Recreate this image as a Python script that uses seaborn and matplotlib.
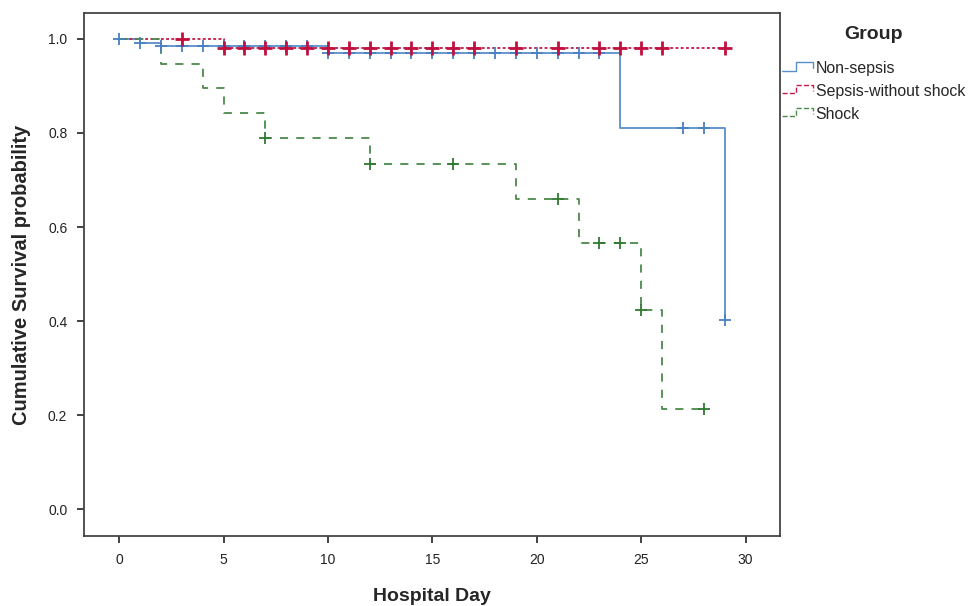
import numpy as np
import pandas as pd
import seaborn as sns
import matplotlib.pyplot as plt
from matplotlib.lines import Line2D
from matplotlib.legend_handler import HandlerBase

# Kaplan-Meier steps
groups = ["Non-sepsis", "Sepsis-without shock", "Shock"]

nonsep_times = [0, 1, 2, 10, 24, 29]
nonsep_surv = [1.0, 0.992, 0.985, 0.970, 0.810, 0.402]
nonsep_end = 29
nonsep_censor = [0, 1, 2, 3, 4, 5, 6, 7, 8, 9, 10, 11, 12, 13, 14, 15, 16, 17,
                 18, 19, 20, 21, 22, 23, 27, 28, 29]

sepsis_times = [0, 5]
sepsis_surv = [1.0, 0.981]
sepsis_end = 29
sepsis_censor = [3, 5, 6, 7, 8, 9, 10, 11, 12, 13, 14, 15, 16, 17, 19, 21, 23,
                 24, 25, 26, 29]

shock_times = [0, 2, 4, 5, 7, 12, 19, 22, 25, 26]
shock_surv = [1.0, 0.947, 0.895, 0.842, 0.789, 0.734, 0.660, 0.566, 0.423, 0.213]
shock_end = 28
shock_censor = [7, 12, 16, 21, 23, 24, 25, 28]

colors = {"Non-sepsis": "#5b8fc9", "Sepsis-without shock": "#c21a4b", "Shock": "#4a8a4a"}
mark_colors = {"Non-sepsis": "#4a80c0", "Sepsis-without shock": "#c0103f", "Shock": "#2f7a2f"}
dash_map = {"Non-sepsis": "", "Sepsis-without shock": (1.6, 1.3), "Shock": (4.5, 4.5)}

series = {
    "Non-sepsis": (nonsep_times, nonsep_surv, nonsep_end, nonsep_censor),
    "Sepsis-without shock": (sepsis_times, sepsis_surv, sepsis_end, sepsis_censor),
    "Shock": (shock_times, shock_surv, shock_end, shock_censor),
}

# long tables for the step curves and the censor marks
curve_rows = []
cens_rows = []
for g, (t, s, end, cens) in series.items():
    for ti, si in zip(t + [end], s + [s[-1]]):
        curve_rows.append({"group": g, "day": ti, "surv": si})
    for c in cens:
        idx = np.searchsorted(t, c, side="right") - 1
        cens_rows.append({"group": g, "day": c, "surv": s[idx]})
curves = pd.DataFrame(curve_rows)
cens_df = pd.DataFrame(cens_rows)

sns.set_style("white")
plt.rcParams["font.family"] = ["Liberation Sans", "DejaVu Sans"]

fig = plt.figure(figsize=(9.68, 6.06), dpi=100)
ax = fig.add_axes([0.0868, 0.1155, 0.719, 0.863])

sns.lineplot(data=curves, x="day", y="surv", hue="group", style="group",
             palette=colors, dashes=dash_map, drawstyle="steps-post",
             estimator=None, sort=False, linewidth=1.3, legend=False, ax=ax)

for g in ["Non-sepsis", "Shock", "Sepsis-without shock"]:
    sub = cens_df[cens_df["group"] == g]
    lw = 2.0 if g == "Sepsis-without shock" else 1.3
    sz = 90 if g == "Sepsis-without shock" else 70
    sns.scatterplot(data=sub, x="day", y="surv", marker="+", s=sz,
                    color=mark_colors[g], linewidth=lw, legend=False, ax=ax, zorder=3)

ax.set_xlim(-1.68, 31.65)
ax.set_ylim(-0.057, 1.055)
ax.set_xticks([0, 5, 10, 15, 20, 25, 30])
ax.set_yticks([0.0, 0.2, 0.4, 0.6, 0.8, 1.0])
ax.set_yticklabels(["0.0", "0.2", "0.4", "0.6", "0.8", "1.0"])
ax.tick_params(axis="both", direction="out", length=5, width=1.3, color="#333333",
               labelsize=10, labelcolor="#222222", bottom=True, left=True, pad=7)
for sp in ax.spines.values():
    sp.set_color("#444444")
    sp.set_linewidth(1.3)

ax.set_xlabel("Hospital Day", fontsize=14, fontweight="bold", labelpad=15)
ax.set_ylabel("Cumulative Survival probability", fontsize=14.5, fontweight="bold", labelpad=12)


class HandlerStep(HandlerBase):
    # small step-shaped handle like the SPSS legend
    def create_artists(self, legend, orig_handle, xdescent, ydescent, width, height, fontsize, trans):
        x0 = -xdescent
        y0 = -ydescent
        xs = [x0, x0 + 0.45 * width, x0 + 0.45 * width, x0 + width, x0 + width]
        ys = [y0 + 0.2 * height, y0 + 0.2 * height, y0 + 0.95 * height,
              y0 + 0.95 * height, y0 + 0.45 * height]
        ln = Line2D(xs, ys, color=orig_handle.get_color(),
                    linestyle=orig_handle.get_linestyle(), linewidth=1.0,
                    transform=trans)
        return [ln]


handles = [
    Line2D([], [], color=colors["Non-sepsis"], linestyle="-"),
    Line2D([], [], color=colors["Sepsis-without shock"], linestyle=(0, (1.5, 1.2))),
    Line2D([], [], color=colors["Shock"], linestyle=(0, (3, 3))),
]
leg = fig.legend(handles, groups, title="Group", loc="upper left",
                 bbox_to_anchor=(0.801, 0.968), frameon=False, fontsize=11.4,
                 handler_map={Line2D: HandlerStep()}, handlelength=2.0,
                 handletextpad=0.15, labelspacing=0.5, borderaxespad=0)
leg.get_title().set_fontweight("bold")
leg.get_title().set_fontsize(14)
leg._legend_box.sep = 13

fig.savefig("out.png", dpi=100)
